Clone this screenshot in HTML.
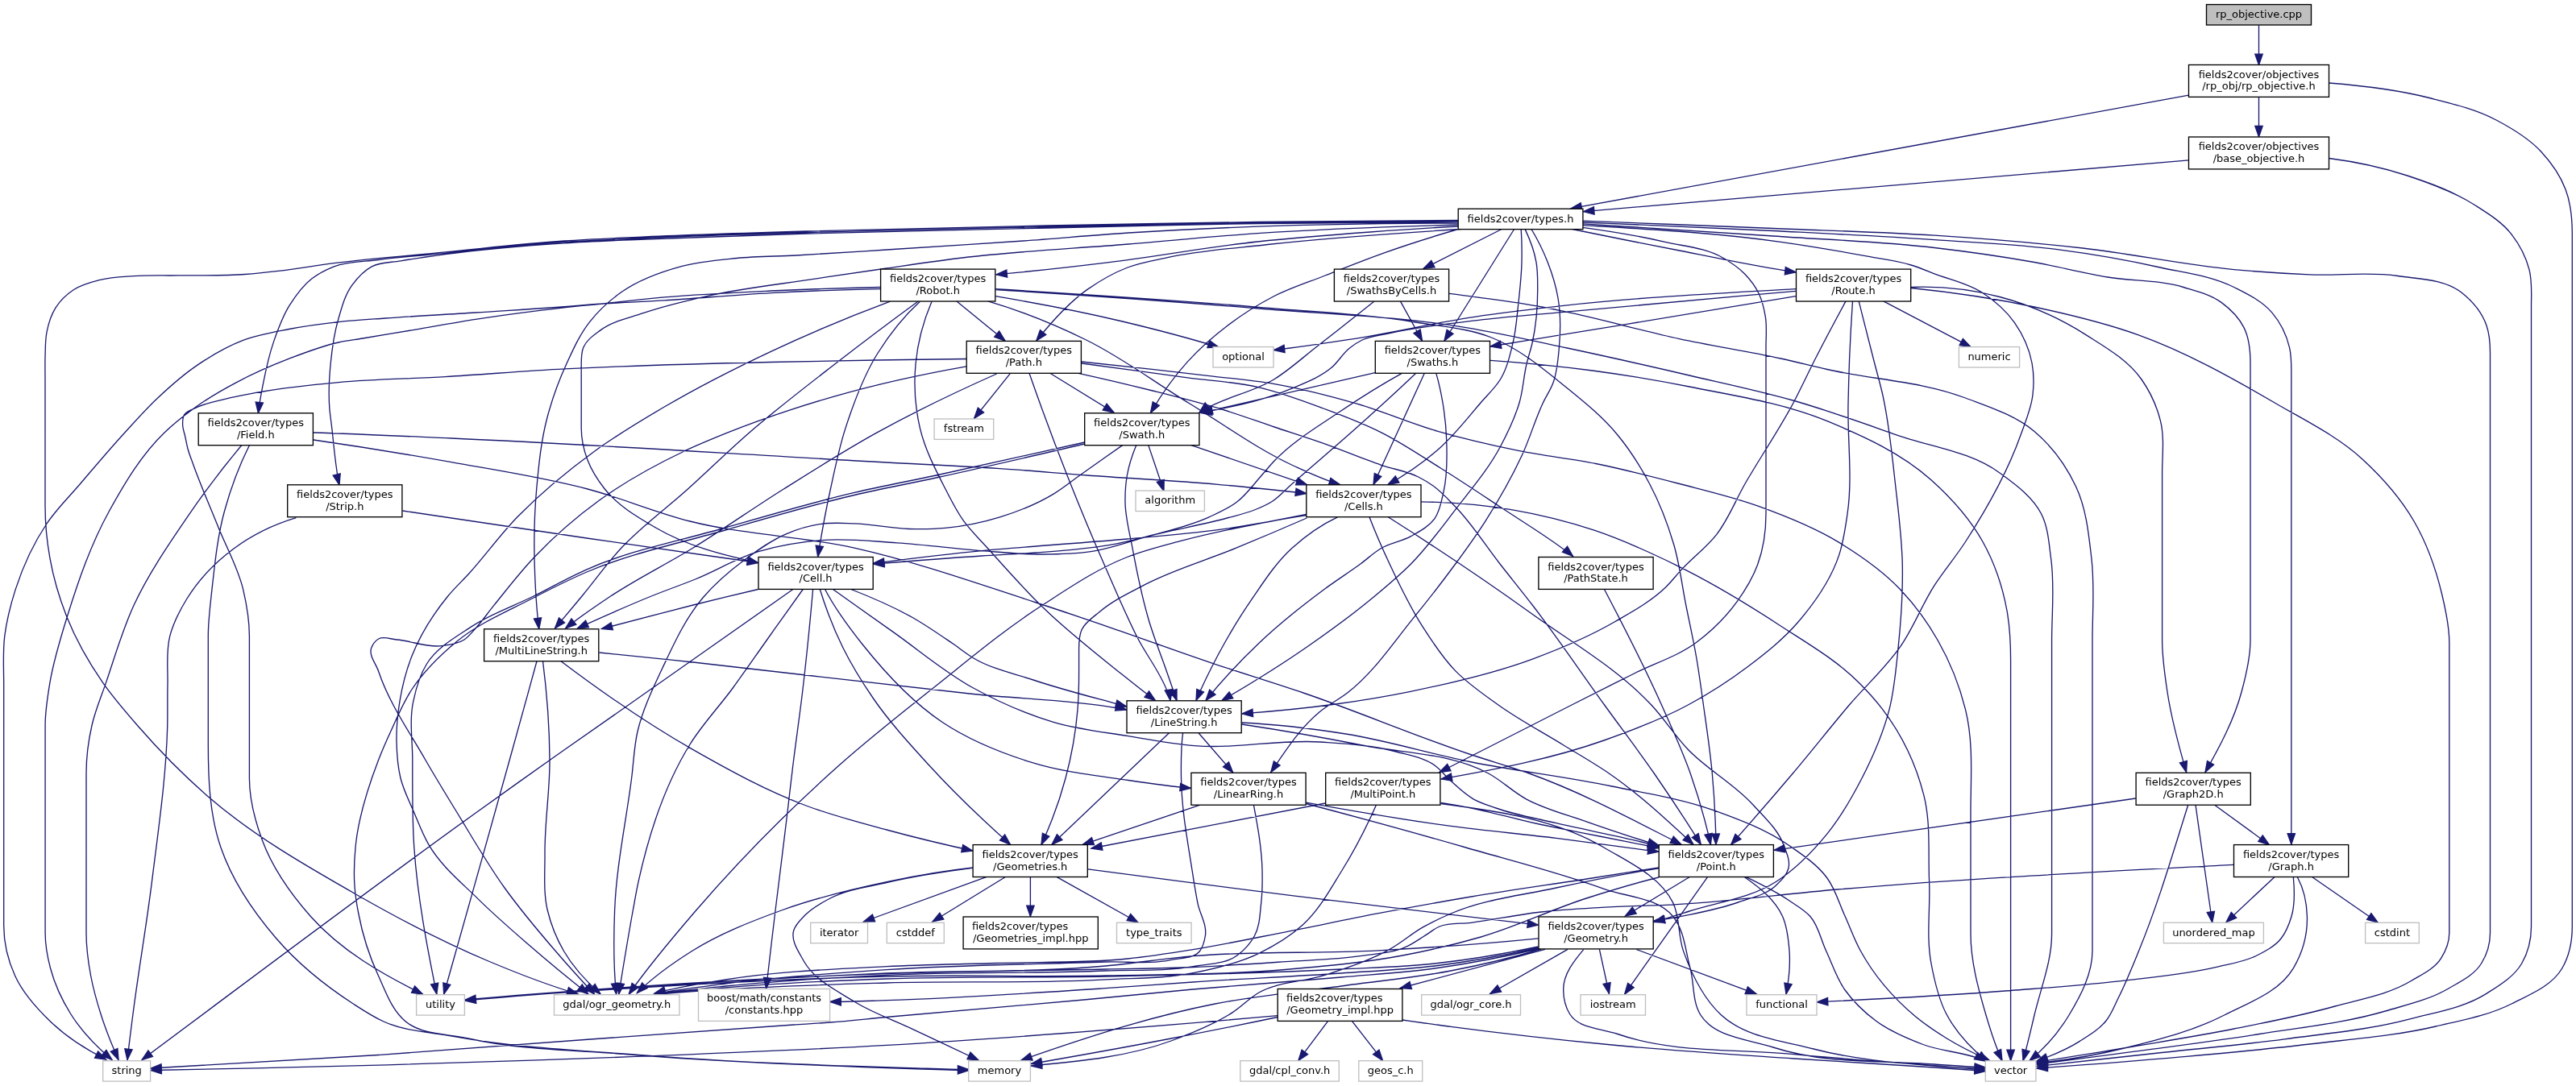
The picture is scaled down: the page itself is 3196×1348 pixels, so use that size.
<!DOCTYPE html>
<html><head><meta charset="utf-8"><title>rp_objective.cpp include graph</title>
<style>html,body{margin:0;padding:0;background:#fff}svg{display:block}text{font-family:"DejaVu Sans","Liberation Sans",sans-serif;font-size:13px;fill:#000;text-anchor:middle}.e{fill:none;stroke:#191970;stroke-width:1.33}.a{fill:#191970;stroke:#191970;stroke-width:1.33}.n{fill:#fff;stroke:#000;stroke-width:1.33}.g{fill:#fff;stroke:#bfbfbf;stroke-width:1.33}.r{fill:#bfbfbf;stroke:#000;stroke-width:1.33}</style></head><body>
<svg xmlns="http://www.w3.org/2000/svg" width="3196" height="1348" viewBox="0 0 3196 1348">
<rect width="3196" height="1348" fill="#fff"/>
<path class="e" d="M2802.5,31.5L2802.5,80.5M2802.5,120.6L2802.5,169.7M2715.5,118.2L1949,258.8M2715.5,198.9L1964.5,262.6M2889.5,103C2931.3,106.3 2973.3,111.1 3014,121.5C3042.2,128.7 3071.2,135.4 3097,149C3117,159.5 3137.1,171.4 3152.5,188C3165.2,201.7 3176.4,217.5 3183,235C3189.6,252.3 3191.3,271.5 3191.3,290C3191.3,318.3 3191.3,346.7 3191.3,375C3191.3,618.3 3191.3,861.7 3191.3,1105C3191.3,1120 3191.3,1135 3191.3,1150C3191.3,1167.8 3187.7,1186.6 3178.7,1202C3165.8,1224 3138.8,1234.4 3116,1246C3086.9,1260.8 3053.8,1266.5 3022,1274C2970.8,1286.1 2917.9,1289.7 2865.6,1296C2813.5,1302.3 2761.2,1307 2709,1311.7C2648.4,1317.2 2587.7,1321.8 2527,1326M2889.5,196.5C2922.4,200.7 2955.2,207.6 2986.7,218C3015.3,227.4 3044.2,237.8 3069.6,254C3086.2,264.6 3103.9,275.2 3116,290.8C3126,303.7 3133.9,318.8 3138,334.6C3141.8,349.3 3140.5,364.8 3140.5,380C3140.5,395 3140.5,410 3140.5,425C3140.5,651.7 3140.5,878.3 3140.5,1105C3140.5,1120 3140.5,1135 3140.5,1150C3140.5,1165.8 3136.6,1182.3 3128.6,1196C3118.9,1212.6 3101,1223.1 3084.8,1233.4C3056.9,1251.1 3022.8,1256.2 2990.9,1264.7C2939.8,1278.3 2886.7,1282.7 2834.3,1289.8C2782.3,1296.8 2730,1301.3 2677.8,1307C2627.5,1312.5 2577.3,1318 2527,1323.5M1809,273.5C1726,273.8 1643,274.5 1560,275.5C1473.3,276.6 1386.7,278.3 1300,280C1200,282 1100,284 1000,287C933.3,289 866.6,291 800,294C766.7,295.5 733.3,296.7 700,299C650.7,302.3 601.7,308.1 552.5,312.9C506.5,317.4 460.3,320.9 414.4,326.7C391.3,329.6 368.4,333.8 345.3,336.4C331.5,338 317.7,339.5 303.9,340.5C276.3,342.5 248.6,341.5 221,341.9C202.6,342.2 184.1,341.4 165.7,342.7C151.8,343.7 137.8,344 124.3,347.4C112.9,350.3 101,353.3 91.2,359.8C82.5,365.6 74.7,373.1 69.1,381.9C63.3,391 60.1,401.7 58,412.3C56.2,421.4 56.4,430.8 56.1,440C55.7,450 56,460 56,470C56,480 56,490 56,500C56,532.3 56,564.7 56,597C56,607 56,617 56,627C56,649 58,671.1 61.9,692.7C66.4,717.8 73.6,742.5 83.1,766.2C94.6,794.9 110.1,822 127.6,847.4C140.4,865.9 155.3,883 170.1,900C197.1,931.1 226,960.6 257,987.7C313.6,1037.1 379.8,1074.8 445,1112C497.2,1141.8 550.6,1169.8 606,1193C642.3,1208.3 679.2,1222.8 717,1233.8M1809,274.5C1726,274.7 1643,275.4 1560,276.5C1473.3,277.7 1386.7,279.7 1300,281.5C1200,283.6 1100,285.5 1000,288.5C933.3,290.5 866.6,292.5 800,295.5C766.7,297 733.3,298.2 700,300.4C650.7,303.7 601.7,309.5 552.5,314.3C524.9,317 497.1,318.9 469.6,322.5C451.1,324.9 431.7,324 414.4,330.8C404.6,334.7 395,339.5 386.7,346C375.3,354.8 366.8,367 359.1,379.2C350.6,392.8 345.1,408.2 339.8,423.4C333.6,441.3 329.6,460 326,478.6C323.8,489.9 321.7,501.3 320.4,512.8M1809,275.5C1726,275.6 1643,276.3 1560,277.5C1473.3,278.8 1386.7,281.1 1300,283C1200,285.2 1100,287 1000,290C933.3,292 866.6,294.1 800,297C766.7,298.5 733.3,299.6 700,301.8C650.7,305.1 601.4,309 552.5,315.6C534,318.1 515.6,320.7 497.2,323.9C485.2,326 472.1,325.1 461.3,330.8C451.2,336.1 443.2,345.1 436.5,354.3C427.8,366.4 424.1,381.5 419.9,395.7C414.6,413.6 412,432.4 410.2,451C408.4,469.3 407.4,487.8 408.8,506.2C409.4,514.2 410.7,522.1 411.6,530C414.1,551.3 415.6,572.9 419.5,594C420,596.6 420.3,599.2 421,601.8M1809,277C1726,277.4 1643,278.2 1560,281.2C1506.6,283.1 1453.3,285.6 1400,289C1356.5,291.8 1313.1,295.9 1269.6,299C1213.1,303 1156.5,306.4 1100,310C1062.6,312.4 1025.2,315 987.8,317C963.2,318.3 938.5,318.1 914,320.5C891,322.8 867.7,324.5 845.4,330.6C819.5,337.6 793.4,346.9 771.4,362.3C756.6,372.7 743,385.1 731.8,399.3C719.3,415 711.1,433.8 702.7,452C692.9,473.2 685,495.4 679,518C671.3,547 668.4,577.1 665.7,607C662.5,642.9 662.2,679 663.7,715C664.6,736.9 665.8,758.9 668.8,780.6M1809,279C1726,281.2 1642.9,284 1560,289.6C1506.6,293.2 1453.3,298.6 1400,303C1331.3,308.7 1262.4,311.7 1194,320C1162.6,323.8 1131.3,328.5 1100,333C1069.7,337.3 1039.5,341.8 1009.3,346.4C965.1,353.1 920.6,357.8 877,367.6C850.4,373.6 823.7,379.8 797.9,388.7C779.9,394.9 760.2,398.4 745,409.9C737.1,415.9 727.8,421.8 723.9,431C721.2,437.5 721.2,444.9 721.2,452C721.2,478.5 721.2,504.9 721.2,531.4C721.2,544.9 724.2,558.4 729,571C733.9,584 741.7,596 750.3,607C766.7,627.8 790.7,641.6 813.5,655C852.1,677.7 896.9,688.9 940.6,698.5M1809,281C1772.6,282.9 1736.3,285.3 1700,288C1653.3,291.4 1606.6,295 1560,300C1497.8,306.7 1436.1,318.3 1374,325.8C1328.1,331.4 1282.1,336.6 1236,340.8M1812,284.5C1732.2,289.5 1652.4,294.6 1573,303.5C1531.4,308.2 1489.5,310.8 1448.6,319.6C1431.9,323.2 1414.9,325.9 1399,332C1381.3,338.8 1364.5,348.5 1349,359.4C1324.6,376.6 1304.5,399.7 1285.8,423M1809,284.5C1778.2,293.5 1747.6,303.1 1717.4,313.8C1692.7,322.6 1668.4,332.4 1644,342C1622.6,350.5 1600.5,357.4 1580,368C1560.1,378.3 1541,390.4 1523.2,404C1505.4,417.5 1488.5,432.4 1473.5,448.9C1455.9,468.2 1440.8,489.9 1427.5,512.5M1863,284.5L1766,333.5M1878.6,284.5L1792,423M1887.2,284.9C1888.2,298.4 1888.3,312 1888,325.6C1887.6,342.8 1885.7,359.9 1883.8,377C1882,393.4 1880.9,410 1877,426C1873.4,441.1 1869.8,456.6 1862,470C1855.4,481.2 1845.5,490.1 1837,500C1820.9,518.8 1805.7,538.7 1787.3,555.2C1767.4,573 1745.3,588.4 1722,601.5M1892.3,284.9C1898.4,297.8 1903.6,311.5 1906,325.6C1908,336.9 1907.7,348.5 1907.7,360C1907.7,382.1 1905.8,404.4 1901,426C1899.1,434.3 1896.3,442.3 1894.3,450.5C1890.3,466.8 1889.8,483.9 1885,500C1879.3,519.2 1870.5,537.5 1861,555.2C1846,583.2 1825,607.4 1805.7,632.6C1788,655.6 1770.9,679.3 1750.5,700C1735.9,714.8 1719.9,728 1704,741.3C1678.1,762.9 1650.7,782.7 1623,802C1588.4,826.1 1552.4,848.3 1516,869.5M1900,284.5C1907.8,297.4 1914.5,311 1920,325C1925.7,339.5 1930.4,354.6 1933,370C1936.4,389.7 1936.2,410.1 1934.5,430C1933.2,445.2 1932.2,460.7 1927,475C1923.8,483.8 1918.4,491.6 1914.4,500C1904.5,520.9 1898.3,543.5 1888.6,564.5C1875.3,593.1 1859.6,620.7 1842.6,647.3C1831,665.4 1818.4,682.7 1805.7,700C1789.3,722.3 1772.3,744.2 1754.8,765.6C1728.3,798.1 1704.8,834.3 1671.7,860C1661,868.3 1648.5,874.4 1638,883C1612.9,903.5 1595,931.7 1576.8,958.5M1963.7,282.3C1997.9,287 2032.1,292.5 2065.7,300.3C2089.9,305.9 2116,307.6 2137.5,320C2147.2,325.5 2156.6,331.8 2164.4,339.8C2171.6,347.2 2178,355.7 2182.4,365C2186.6,373.9 2188.8,383.8 2190.4,393.6C2192.3,405.6 2191,417.9 2191,430C2191,443.3 2191,456.7 2191,470C2191,512.7 2191,555.3 2191,598C2191,611.3 2191,624.7 2191,638C2191,659.4 2187.9,681.2 2180.5,701.3C2174.4,717.6 2165.2,732.8 2155,746.9C2141,766.2 2123.6,783.3 2104.5,797.5C2081.8,814.4 2053.8,822.8 2028.5,835.5C2002.3,848.6 1976.1,861.8 1950,875C1895.2,902.7 1840.6,930.6 1786,958.5M1950.8,284.5C1995,293.6 2039.3,302.4 2083.6,311C2127.3,319.5 2170.7,329 2214.7,335.8C2219.1,336.5 2223.5,337.3 2228,337.8M1963.7,279.6C2045.7,284.5 2127.9,288.8 2209.3,300.3C2245.3,305.4 2281.2,311.5 2317,318.2C2335,321.6 2353.5,323.6 2371,329C2380.9,332 2390.4,336.1 2400,339.8C2419.6,347.2 2441,351.4 2458.6,362.8C2474.1,372.8 2488.6,385.3 2499.3,400.4C2509.8,415.3 2517.6,432.6 2521,450.5C2523.4,463.4 2523.5,476.9 2522,490C2520.1,507.3 2512.8,523.6 2507,540C2490.4,586.9 2465.5,630.8 2438.5,672.5C2426.5,691.1 2412,708 2400,726.6C2384.3,751 2374.3,778.8 2357.7,802.6C2339.4,828.9 2315.2,850.6 2294.4,875C2270.6,903 2248,932 2224.3,960C2199.1,989.8 2173.6,1019.2 2147.7,1048.3M1963.7,277.8C2042.5,282.6 2121.3,287.6 2200,293C2266.7,297.6 2333.6,299.7 2400,307.5C2440.5,312.2 2480.9,317.9 2521,325C2552.5,330.6 2583.5,338.7 2615,344C2646.2,349.2 2678.8,347.3 2709,356.5C2725.2,361.4 2742.4,365.4 2756,375.4C2767.3,383.7 2777.7,394.1 2784,406.6C2790.7,419.9 2792,435.6 2792,450.5C2792,463.8 2792,477.2 2792,490.5C2792,578.7 2792,666.8 2792,755C2792,768.3 2792,781.7 2792,795C2792,816.6 2786.7,838.1 2781,859C2771.5,894.1 2754,926.9 2736,958.5M1963.7,276C2042.5,279.1 2121.3,282.5 2200,286.5C2266.7,289.9 2333.4,293 2400,297.6C2450.9,301.1 2501.9,303 2552.5,309.6C2594.5,315.1 2636.4,322.1 2677.8,331.5C2709.4,338.6 2742.8,341.9 2771.7,356.5C2788.5,365 2806.5,373.5 2818.7,387.9C2829.3,400.3 2836.9,415.8 2840.6,431.7C2843.2,442.9 2842.8,454.5 2842.8,466C2842.8,479.3 2842.8,492.7 2842.8,506C2842.8,673.3 2842.8,840.7 2842.8,1008C2842.8,1021.3 2842.8,1034.7 2842.8,1048M1963.7,274.2C2042.5,277.2 2121.2,280.2 2200,283.5C2266.7,286.3 2333.4,287.8 2400,292.2C2461.4,296.2 2522.8,301.1 2584,308C2646.8,315.1 2708.8,328.8 2771.7,334.6C2802.9,337.5 2834.3,339.6 2865.6,340.9C2902,342.5 2938.9,337 2975,342.5C3001.7,346.6 3032.2,346.2 3053.5,362.8C3067,373.3 3079,387.4 3084.8,403.5C3088.7,414.4 3089.5,426.4 3089.5,438C3089.5,451.3 3089.5,464.7 3089.5,478C3089.5,691.3 3089.5,904.7 3089.5,1118C3089.5,1131.3 3089.5,1144.7 3089.5,1158C3089.5,1171.2 3085.5,1184.8 3078.5,1196C3069.5,1210.5 3052.5,1218.3 3037.8,1227C3013.9,1241.1 2986.1,1247.1 2959.5,1255C2908.7,1270 2855.4,1275.1 2803,1283.5C2751,1291.9 2698.7,1298.4 2646.5,1305.4C2606.7,1310.8 2566.9,1316 2527,1321M1092,356.5C1046.8,357.4 1001.6,358.9 956.4,361C912.3,363.1 868.3,365.1 824.3,368.9C796.2,371.3 768.1,375 740,377.5C690.1,382 640,384.7 590,388C552.7,390.5 515.3,392.3 478,395C458.7,396.4 439.3,397.5 420,399.6C399.5,401.9 379,404.5 358.7,408.5C339.5,412.3 319.9,415.5 301.6,422.4C281.4,430.1 262.5,441.2 244.6,453.4C227.1,465.3 211.1,479.5 195.7,494C181.3,507.5 168.2,522.4 154.8,537C136,557.5 118.1,578.8 100,600C85.9,616.6 70.1,631.9 58,650C41.2,674.9 28.6,702.8 19.3,731.4C13.2,750.3 8.3,769.7 5.8,789.4C3.3,809.4 4.7,829.8 4.7,850C4.7,863.3 4.7,876.7 4.7,890C4.7,963 4.7,1036 4.7,1109C4.7,1122.3 4.7,1135.7 4.7,1149C4.7,1170.4 9.9,1192.1 18.8,1211.5C28.7,1233.2 45.4,1251.5 62.6,1268C82.6,1287.3 106.6,1302.6 131.5,1315M1092,358.6C1046.8,359.5 1001.6,361.2 956.4,363.6C912.3,366 868.4,370.1 824.3,372.9C796.2,374.7 768,375.5 740,377.9C713.3,380.2 686.6,383.3 660,386.6C636.6,389.5 613.3,392.8 590,396.4C566.6,400 543.3,404.4 520,408.3C496.7,412.2 473.3,416.1 450,420C440,421.7 429.9,422.8 420,425C399,429.6 378.8,437.5 358.7,445.2C336.5,453.8 314.5,463.4 293.5,474.6C276.7,483.5 260.1,493 244.6,504C230.4,514.1 216.6,524.9 204,537C175.3,564.6 154.6,599.9 135.3,634.7C112.5,676 97.1,721.2 83.1,766.2C74.8,792.9 66.5,819.8 61.9,847.4C59,864.8 56.1,882.4 56.1,900C56.1,913.3 56.1,926.7 56.1,940C56.1,999.3 56.1,1058.7 56.1,1118C56.1,1131.3 56.1,1144.7 56.1,1158C56.1,1172.8 58.8,1187.7 62.6,1202C67.9,1221.9 76.8,1241 87.7,1258.5C101.2,1280.2 119.5,1299 139,1315.5M1104.4,374.2C1054.3,392.9 1004.8,413.5 956.4,436.3C911.5,457.4 867.1,479.9 824.3,505C794.8,522.3 765.4,539.9 737.8,560C704.1,584.5 671.8,611.3 642.6,641C620.8,663.2 602.8,688.9 581.8,712C573.2,721.4 563.8,730.1 555.7,740C537.3,762.5 521.4,787.7 510.8,814.8C503.8,832.8 499,851.7 495.9,870.8C493.2,887 491.7,903.6 492,920C492.3,935.4 493.3,951 497,966C500.6,980.6 507.6,994.1 513.5,1008C519.3,1021.7 524.5,1035.8 532,1048.7C547.7,1075.6 572.9,1095.7 595,1117.6C615,1137.3 636.3,1155.6 657.5,1174C681.1,1194.5 705.3,1214.4 729.8,1233.8M1138.8,374.2C1104.1,399.6 1069.7,425.6 1035.7,452C1000,479.7 964.1,507.2 930,536.7C903.8,559.4 879.1,583.8 853.4,607C826.2,631.6 796,653.2 771,680C753.4,698.9 738.5,720.1 722,740C710.9,753.4 699.7,766.8 688.4,780M1141.4,374.2C1120.8,393 1103.3,415.4 1088.6,439C1070.9,467.4 1059.3,499.5 1049,531.4C1041,556.1 1035.9,581.6 1030.4,607C1024.3,634.8 1019.2,662.9 1014.7,691M1156,374.2C1145.5,398.8 1138.4,425.3 1136,452C1133.6,478.4 1135.4,505.6 1141.4,531.4C1147.6,558 1160.5,582.7 1173,607C1179.9,620.4 1186.6,634.1 1195.4,646.4C1204.1,658.5 1215,668.9 1225,680C1247.7,705.3 1270.1,731 1294.6,754.6C1324.4,783.4 1357.1,809.1 1389.4,835C1404,846.7 1418.5,858.4 1433.5,869.5M1187,373.9L1247,423M1225.7,373.9C1267.7,386.1 1308.5,402.7 1347.7,422C1392.8,444.2 1433.1,474.9 1476,501C1518.7,526.9 1559.2,557.1 1604.6,578C1623.5,586.7 1642.4,595.8 1662.4,601.5M1235.2,367.7C1287.2,376.5 1339.1,386.3 1390.5,398.5C1431.3,408.2 1471.9,418.7 1512,431M1235.2,358.7C1344.1,365.2 1453.1,372.1 1561.8,381.4C1626.8,387 1692.2,389.3 1756.5,400C1788,405.3 1820.8,407.2 1850.5,419C1885.5,432.9 1915.1,458.1 1944.4,481.8C1966.5,499.7 1988.9,518 2007,540C2022.2,558.4 2035.1,578.9 2046.3,600C2059.1,624.1 2069,649.8 2076.7,676C2084,700.8 2086.8,726.7 2091.9,752C2096.1,773 2100.8,793.9 2104.5,815C2108,834.9 2110.6,855 2113.4,875C2117.4,903.3 2121.7,931.6 2124.3,960C2127,989.4 2128.5,1018.8 2129,1048.3M1235.2,359.5C1344.1,366.4 1453,374 1561.8,383C1647.6,390.1 1734.1,392.5 1819,406.6C1861.1,413.6 1902.7,423.1 1944.4,432C1995.1,442.8 2045.6,454.2 2096,466C2138.9,476 2182.1,484.9 2224.5,497C2267.9,509.4 2310.4,524.9 2353,539.8C2395.9,554.9 2444.3,560.1 2481,587C2500.5,601.3 2521.8,616.4 2532.7,638C2541.3,655.1 2542.1,675.1 2544.7,694C2549.3,727.3 2545.6,761.3 2545.6,795C2545.6,808.3 2545.6,821.7 2545.6,835C2545.6,929.7 2545.6,1024.3 2545.6,1119C2545.6,1132.3 2545.6,1145.7 2545.6,1159C2545.6,1193.4 2531.9,1226.5 2524,1260C2519.6,1278.9 2515.1,1297.8 2510,1316.5M1737.4,373.9L1764.5,423M1704.7,374.3C1681.2,393 1657.7,411.6 1634,430C1616.5,443.6 1600.1,458.8 1581.3,470.5C1553.7,487.7 1519.7,492.5 1492,509.5C1490.7,510.3 1489.2,511 1488,512M1797.9,364.4C1836.3,369.5 1874.9,373.8 1913,381C1922,382.7 1931,384.5 1940,386.4C1988.2,396.3 2035.5,410.3 2083.6,420.6C2125.3,429.6 2167.6,435.8 2209.3,445C2228.6,449.3 2247.7,454.1 2267,458.5C2323.9,471.4 2384,473.2 2438.5,494C2468.1,505.3 2499.8,515.1 2524,535.5C2545.8,553.9 2563.5,578.1 2575.6,604C2588.6,631.8 2591.5,663.5 2595,694C2598.9,727.4 2596,761.3 2596,795C2596,808.3 2596,821.7 2596,835C2596,936.7 2596,1038.3 2596,1140C2596,1153.3 2596,1166.7 2596,1180C2596,1208.4 2581.7,1235.7 2567,1260C2554.1,1281.3 2537.5,1300.9 2518,1316.5M2228,358.6C2131.9,364.2 2035.7,368.7 1940,379.3C1906.6,383 1873.2,386.9 1840,391.7C1783.8,399.8 1728.5,413 1672.4,421.6C1641.8,426.3 1611.2,430.9 1580.4,434.5M2228,361.3C2132,369.9 2036,378.4 1940,387.3C1906.7,390.4 1873.2,392.8 1840,396.7C1800.5,401.4 1760.8,405.2 1722,414C1711.3,416.4 1699.9,417.2 1690,422C1684.5,424.7 1679.3,428.2 1674.5,432C1665.8,438.8 1660.5,449.2 1652,456.3C1637.5,468.5 1618.9,475.2 1601.5,482.7C1569.3,496.6 1534.4,503.4 1500,510.5C1496.7,511.2 1493.4,512 1490,512.5M2228,367.6C2157.7,379.3 2087.4,391 2017,402.6C1991.3,406.8 1965.7,411 1940,415.2C1909.7,420.1 1879.3,425.1 1849,430M2336.8,373.9L2445,430.6M2371,356.5C2407.9,355 2445.3,359.1 2481,368.5C2518.7,378.4 2555.1,394.8 2588,415.6C2612.9,431.4 2640.1,446.8 2657,471C2667.8,486.5 2676,504.3 2680.5,522.7C2685.6,543.5 2682.6,565.6 2682.6,587C2682.6,600.3 2682.6,613.7 2682.6,627C2682.6,669.7 2682.6,712.3 2682.6,755C2682.6,768.3 2682.6,781.7 2682.6,795C2682.6,816.4 2685.8,837.8 2689,859C2694.1,892.7 2703.1,925.8 2712.6,958.5M2371,357.5C2422.3,362.7 2473.6,370.2 2524,381C2567.4,390.3 2610.8,400.6 2652.6,415.6C2712.7,437.2 2768.9,468.8 2824,501C2860.6,522.4 2899.8,541.3 2931,570C2955.6,592.6 2978.2,618.1 2995,647C3011.1,674.8 3022,705.8 3029.5,737C3034.3,756.8 3038.8,777 3038.8,797.4C3038.8,810.7 3038.8,824.1 3038.8,837.4C3038.8,930.9 3038.8,1024.5 3038.8,1118C3038.8,1131.3 3038.8,1144.7 3038.8,1158C3038.8,1169.1 3034.4,1180.3 3028.5,1189.6C3020.1,1202.8 3004.4,1209.7 2991,1217.8C2962.7,1234.8 2928.8,1240 2897,1249C2855.8,1260.7 2813.7,1268.6 2771.7,1277C2730.1,1285.3 2688.3,1291.9 2646.5,1299C2606.7,1305.7 2566.9,1312.2 2527,1318.5M2290,373.9C2277.2,397.5 2264.6,421.1 2252.4,445C2242.9,463.6 2234.3,482.6 2224.5,501C2206.4,534.9 2184.5,566.7 2165.3,600C2153.2,621 2144.6,644.2 2129.8,663.3C2117.4,679.3 2100.6,691.5 2086.8,706.4C2079.9,713.8 2073.8,722 2066.5,729C2048.1,746.8 2025.1,759.2 2003,772C1971,790.6 1936.6,804.9 1902,817.8C1852.9,836.1 1801.4,847.8 1750,858.3C1719.2,864.6 1688.1,869.7 1657,874C1618.5,879.3 1579.8,883 1541,885.8M2298.5,373.9C2296.9,397.6 2295.6,421.3 2294.6,445C2293.9,463.7 2293.4,482.3 2293,501C2292,546.7 2298.7,592.8 2292,638C2289.5,655 2287.2,672.3 2281.8,688.6C2271.6,719.5 2252.2,747.3 2231,772C2212.7,793.4 2190.2,811 2167.8,828C2144.6,845.5 2120,861.2 2094.4,875C2061.2,893 2025.6,906.4 1990,919C1924.8,942.1 1856.1,954.9 1788,967M2306.2,373.9C2312.2,397.6 2318.1,421.3 2324.2,445C2328,460 2332.4,474.9 2335.8,490C2343.9,526.1 2347.2,563.2 2351.4,600C2355.2,633.7 2359.7,667.4 2360.3,701.3C2360.9,735.1 2358.7,769 2355.2,802.6C2352.5,828.7 2350.5,855.2 2344,880.6C2336.4,910.3 2324,938.7 2310,966C2297.6,990.1 2284.1,1013.8 2267,1034.8C2248.5,1057.5 2227.6,1079 2203,1094.7C2171.2,1114.9 2131.9,1119.6 2096,1131C2081.4,1135.6 2066.8,1140.3 2052,1144.5M1199,445.5C1118.1,446.4 1037.3,447.6 956.4,449.5C894.7,450.9 833,452.4 771.4,454.8C747.6,455.7 723.8,456.7 700,457.9C650.8,460.4 601.7,464.7 552.5,467.6C508.3,470.2 464,470.5 420,474.6C388.6,477.5 357.1,480.6 326,486C309.6,488.8 293.1,491.6 277,495.8C266.1,498.6 254.7,500.6 244.6,505.5C238.9,508.3 231.2,509.7 228.3,515.3C226.5,518.7 226.6,522.9 226.6,526.7C226.6,532.3 228.9,537.6 230,543C231,547.7 231.8,552.4 233,557C234.8,563.7 237.5,570.2 239.8,576.7C249.1,602.8 260.4,628.2 270.7,654C281,679.8 295.1,704.4 301.6,731.4C306.1,750.4 309.4,769.9 309.4,789.4C309.4,802.7 309.4,816.1 309.4,829.4C309.4,861.6 309.4,893.8 309.4,926C309.4,939.3 309.4,952.7 309.4,966C309.4,992.2 316.3,1018.4 325.4,1043C338.3,1078 360.7,1109.5 385.4,1137.5C422.8,1179.8 473.9,1209.1 524.5,1234M1199,454.8C1144,464.5 1089.3,476.4 1035.7,491.8C991,504.7 946.8,519.4 903.6,536.7C885.2,544.1 866.9,551.5 849,560C812.4,577.4 776.7,597 743.9,620.8C714.8,641.9 687.6,665.7 662.8,691.7C644.6,710.8 628.6,731.9 612,752.4C604.6,761.5 598,771.4 590,780C585.5,784.9 581.5,790.4 576,794C567.9,799.3 557.6,800.4 548,801.7C529.3,804.2 510.8,795.3 492,794C484.6,793.5 476.1,789.2 469.7,793C465.8,795.3 462.8,799.3 461,803.5C456.9,813.1 466.4,823.6 469.7,833.5C482.8,872.7 507.2,907.2 527.7,943C540.3,964.9 553.5,986.5 566.7,1008C586,1039.6 604.4,1071.9 626,1102C645.5,1129.1 667,1154.7 688.8,1180C704.6,1198.3 720.6,1216.4 737.4,1233.8M1236.6,464C1186.4,486.3 1136.7,510.1 1088.6,536.7C1048.9,558.6 1010.7,582.9 972.3,607C934.5,630.7 898,656.6 860,680C826.3,700.7 790.5,718.1 757.6,740C738.5,752.7 719.4,765.6 701.5,780M1253.5,463.3L1208.6,519.5M1277,463.3C1291.8,505.8 1307.5,548.1 1324,590C1340.4,631.7 1357.7,673 1375.8,714C1387,739.5 1397.9,765.1 1410.4,790C1422.4,813.8 1440.1,834.9 1448.9,860C1450,863.1 1451.5,866.2 1452,869.5M1302.8,463.3L1382,512M1342,451C1385.8,456.9 1429.7,462.9 1473.5,468.8C1502.7,472.7 1532.3,474 1561,480.6C1588.7,487 1615.4,497.1 1642,507C1666.3,516 1690.6,525.2 1713.7,536.8C1739.3,549.6 1763,565.8 1787.3,581C1812.2,596.5 1836.5,612.8 1861,629C1889.4,647.8 1918.7,665.3 1945.7,686C1947.6,687.5 1949.7,688.9 1951.5,690.5M1338,463.3C1368.8,470.1 1399.5,477.3 1430,485C1459.8,492.5 1489.6,499.9 1519,509C1539.8,515.5 1560.3,523 1581,530C1600.7,536.6 1620.4,542.8 1640,549.7C1664.7,558.4 1688.9,568.9 1713.7,577.3C1728.9,582.5 1745.4,584.7 1759.7,592C1766,595.2 1772.2,598.9 1778,603C1788.3,610.3 1796.9,619.9 1805.7,629C1826.6,650.5 1842.5,676.4 1861,700C1874.6,717.4 1888.6,734.5 1902,752C1932.8,792.1 1961,834.1 1990.6,875C2011.1,903.4 2032.4,931.2 2052.3,960C2072.3,989 2091.7,1018.4 2110.3,1048.3M1342,449C1394.2,454.5 1446.3,460.1 1498.4,466.3C1526,469.6 1553.9,471.8 1581.3,476.6C1615.5,482.6 1649.2,491.3 1682.6,500.9C1716.9,510.8 1749.6,525.4 1783.9,535.3C1817.2,544.9 1851.1,552.7 1885.1,559.6C1916.5,566 1948.6,569.1 1980,575.5C2014.2,582.4 2048,591.2 2081.7,600C2114.8,608.7 2148.3,616.3 2180.5,627.9C2215.3,640.4 2250.2,654.1 2281.8,673.4C2309,690 2335.7,708.6 2357.7,731.7C2375.8,750.7 2391.3,772.2 2404.3,795C2419.5,821.7 2431.1,850.8 2438.5,880.6C2448.8,922.2 2445,966.1 2445,1009C2445,1022.3 2445,1035.7 2445,1049C2445,1072.3 2445,1095.7 2445,1119C2445,1132.3 2445,1145.7 2445,1159C2445,1193.3 2454.4,1227.1 2464,1260C2469.6,1279.2 2475.6,1298.4 2484,1316.5M1706,462.6L1491,512.3M1739.3,463.4C1712.9,478 1687.3,494.1 1662.3,511C1634.4,530 1604.6,547.3 1581.3,571.8C1575.7,577.7 1570.7,584 1565.3,590C1555,601.5 1546.1,614.6 1533.7,623.8C1523.5,631.4 1511.6,636.5 1500,641.9C1475,653.5 1447.5,659.1 1421,666.7C1398.6,673.2 1376.4,681.2 1353.3,684.7C1331,688.1 1308.2,688.2 1285.6,688C1263,687.8 1240.5,685.3 1218,683.6C1182.9,680.9 1148.1,676 1113,673.8C1081.7,671.9 1050.2,668.1 1019,670.6C992.6,672.7 966.2,677.1 940.9,684.7C913.6,692.9 889,708.3 862.6,719C844.5,726.3 826.1,732.7 808,740C777.1,752.5 746.7,766.2 716.4,780M1756.5,463.4C1732.2,486.4 1707.5,509 1682.6,531.3C1655.9,555.2 1628.4,578.2 1601.5,602C1594,608.7 1587.4,616.5 1579,622C1572,626.6 1564.1,629.9 1556.3,633C1545.4,637.4 1533.8,639.9 1522.5,643C1496.5,650.2 1469.8,654.9 1443.5,661C1420.9,666.2 1398.6,672.7 1375.8,676.7C1346,681.9 1315.7,683.7 1285.6,686C1263.1,687.8 1240.5,688.5 1218,690C1173.2,692.9 1128.4,696.5 1083.7,700.2M1767.3,463.3L1704,601.5M1781.8,463.4C1785.3,475.4 1787.9,487.7 1790,500C1792.6,515.2 1794.2,530.6 1794.7,546C1795.5,567.5 1795.9,589.5 1791,610.5C1788.4,621.8 1786.7,634.1 1780,643.6C1772.9,653.6 1761.2,659.6 1750.5,665.7C1739,672.2 1725.1,673.8 1713.7,680.5C1704.4,685.9 1696.6,693.6 1687.9,700C1673.3,710.7 1657.9,720.4 1643.3,731.2C1615.2,752 1587.7,773.9 1562.3,798C1538.7,820.4 1516.4,844.2 1496,869.5M1849,447.3C1891.3,450.2 1933.6,454.4 1975.7,460C2016,465.4 2056.1,472 2096,480C2153.6,491.5 2212.7,500.3 2267,522.7C2312.6,541.5 2359,562.6 2395.7,595.5C2420.6,617.8 2443.8,643.3 2460,672.5C2474.7,698.9 2484.6,728.3 2490,758C2493.7,778.4 2494.6,799.3 2494.6,820C2494.6,833.3 2494.6,846.7 2494.6,860C2494.6,998.8 2494.6,1137.7 2494.6,1276.5C2494.6,1289.8 2494.6,1303.2 2494.6,1316.5M1345.6,549C1284.3,562.9 1223,576.8 1161.5,590C1127.7,597.3 1093.7,603.5 1060,611.4C1006.2,624 953.1,639.8 900,655C842.4,671.5 782.8,682.6 728,706.8C705.5,716.7 684.1,729 662,740C636.6,752.6 609.3,761.8 585.6,777.4C565.3,790.8 542.4,803.4 529.5,824C520.7,838 516.1,854.6 512.7,870.8C507.7,894.3 511.8,918.9 511.8,943C511.8,979.3 511.3,1015.7 513.8,1052C518,1113.2 529.5,1173.9 541.8,1234M1345.6,551C1284.3,565.3 1223,579.6 1161.5,593C1127.7,600.4 1093.7,606.6 1060,614.5C1006.2,627.1 953.1,642.8 900,658C842.4,674.5 783.1,686.4 728,710C704.8,719.9 682.4,731.4 660,743C628.3,759.5 594.6,773.3 567,796C545.8,813.4 525.9,833.1 510.8,856C500.1,872.2 492.8,890.4 484.7,908C479.4,919.5 474.3,931.2 469.7,943C456.2,978.1 444.4,1014.6 441,1052C439.5,1067.9 438.8,1084 440,1100C440.8,1111.1 442.5,1122.1 444.6,1133C449.7,1160 458,1186.6 469.6,1211.5C478.7,1231.2 486.1,1253.6 502.7,1267.5C523.5,1284.9 554.6,1283.1 581,1289C647,1303.7 715.4,1303.6 782.8,1309C898.3,1318.3 1014.2,1322.1 1130,1325.6C1153.9,1326.3 1177.8,1327.3 1201.7,1327.5M1392.7,552.6C1375,565 1357.3,577.5 1339.7,590C1329.1,597.5 1319.1,605.9 1308,612.6C1287,625.4 1263.9,634.7 1240.5,641.9C1218.5,648.7 1195.7,653.3 1172.8,655.4C1157.8,656.8 1142.7,656.9 1127.7,656.5C1105,655.9 1082.7,650.5 1060,649.8C1046.3,649.4 1032.5,648.4 1019,650.3C1004,652.4 989.3,656.9 975.3,662.8C957.1,670.5 940.9,682.3 925,694C905.8,708.2 887.4,723.8 872,742C850.3,767.5 836.3,798.8 822,829C809.9,854.6 797.4,880.4 791,908C786.6,927 786.1,946.7 783.6,966C776.6,1020.7 764.7,1074.9 762.6,1130C761.3,1164.6 760.9,1199.5 764.6,1234M1409.8,552.6C1404.8,564.6 1400.7,577.2 1398.4,590C1396.4,601.1 1395.8,612.5 1396,623.8C1396.3,642.8 1401.5,661.5 1405,680.2C1410.6,710.6 1416.7,740.9 1425.5,770.5C1432,792.3 1440.5,813.5 1448,835C1452,846.5 1456,858 1460,869.5M1424.8,552.6L1444,609.5M1478,552.6L1621.7,601.8M299.7,552.7C275.6,581.4 253.1,611.5 232,642.4C208.2,677.3 184.1,712.4 166.3,750.7C151.9,781.8 142.6,815 131.5,847.4C125.5,864.9 118.2,882 114.1,900C109.6,919.6 107,939.9 107,960C107,973.3 107,986.7 107,1000C107,1039.3 107,1078.7 107,1118C107,1131.3 107,1144.7 107,1158C107,1175.9 109.4,1193.9 112.7,1211.5C115.7,1227.4 120.1,1243.1 125,1258.5C131.1,1277.9 138.7,1296.9 147,1315.5M309.4,552.7C296.3,578.8 286.1,606.5 278.4,634.7C269.8,666.2 266.6,699 263,731.4C260.9,750.7 258.3,770 258.3,789.4C258.3,802.7 258.3,816.1 258.3,829.4C258.3,847.4 258.3,865.5 258.3,883.5C258.3,896.8 258.3,910.2 258.3,923.5C258.3,966.7 259.9,1011.2 274,1052C288.3,1093.5 313.9,1131.2 342.5,1164.5C369.8,1196.3 403.1,1223.2 438.3,1246C450.5,1253.9 462.7,1262 476,1268C503.2,1280.3 534.2,1281.3 563.6,1286.6C641.5,1300.7 721.1,1303.8 800,1310C909.8,1318.6 1019.9,1323 1130,1326.5C1153.9,1327.3 1177.8,1328.3 1201.7,1328.5M388.9,537C446,538.7 503,541.5 560,544C740.1,552 920,564.2 1100,574C1146.7,576.5 1193.4,578.5 1240,581.6C1276.3,584 1312.5,587.3 1348.8,590C1402.8,594 1457,596.5 1511,601.3C1547.6,604.6 1584.2,608.1 1620.7,612.5M388.9,546C446.1,554.3 503.1,563.5 560,573.7C616.5,583.8 673.5,592.4 729,607C771.9,618.3 813,636.1 856,647C922.8,664 992.8,665 1060,680.2C1136.6,697.5 1210.9,723.7 1285.6,748C1317.2,758.3 1348.6,769 1380,779.8C1420.6,793.7 1460.8,808.6 1501.5,822.3C1539.9,835.3 1578.7,846.9 1617,860C1687.3,884 1755.6,913.5 1826,937C1849.7,944.9 1873.7,951.6 1897.2,960C1962.6,983.5 2024.1,1016.8 2086,1048.3M367.4,642.6C339.8,650.9 313.1,663.8 290,681C267.3,697.9 246.8,718.9 232,743C223.1,757.5 215.1,772.9 210.8,789.4C205.7,809 208.5,829.8 208,850C207.6,867.3 208.1,884.7 207.7,902C206,966.5 196.3,1030.6 188.4,1094.7C181.6,1149.9 171.8,1204.8 164.8,1260C162.4,1278.5 160,1297 158,1315.5M499.4,634C575.6,645.5 651.8,656.9 728,668C798.8,678.3 869.7,688.5 940.6,698.5M1620.7,638.5C1584.4,646.2 1547.8,652.6 1511,657.7C1473.6,662.8 1436,665.6 1398.4,669C1360.8,672.4 1323.2,674.9 1285.6,678C1263.1,679.8 1240.5,681.5 1218,683.6C1173.1,687.8 1128.4,693.5 1083.7,699.2M1620.7,639.6C1599.1,642.8 1577.7,646.8 1556.3,651C1526,656.9 1495.8,663.2 1466,671.2C1443.3,677.3 1420.3,682.9 1398.4,691.5C1360.4,706.4 1326.3,729.9 1292,752C1244.8,782.5 1201.8,819.1 1157.8,854C1118.3,885.3 1078.6,916.5 1041,950C978.1,1006 918.6,1066.2 863.6,1130C834.6,1163.7 805.7,1197.6 780.3,1234M1621.3,643C1592.2,655.7 1563,668.1 1533.7,680.2C1496.3,695.7 1456.8,706.6 1421,725.4C1401.6,735.6 1381.2,744.9 1364.5,759.2C1356.4,766.1 1346.3,772.1 1342,781.8C1339,788.8 1338.6,796.7 1338.6,804.3C1338.6,814.5 1338.6,824.8 1338.6,835C1338.6,850.2 1338.3,865.4 1337,880.6C1334.6,909.4 1329.5,938.1 1322,966C1314.5,994.2 1304.3,1021.8 1292,1048.3M1659.5,641.8C1638.8,651.5 1619.7,665.1 1602.8,680.5C1582.5,699 1567.6,722.7 1552,745.3C1537.3,766.7 1524,789.1 1511.7,812C1501.7,830.8 1492.2,849.9 1484,869.5M1699,641.8C1706.6,661.8 1715.3,681.4 1724.4,700.8C1736.7,727 1749.3,753.3 1764.9,777.7C1777.1,796.8 1789.6,816.1 1805.4,832.4C1821.2,848.8 1840.4,861.7 1858.9,875C1884.7,893.5 1913,908.3 1940,925C1958.8,936.6 1978.1,947.5 1996.3,960C2033.9,985.9 2067.5,1017.3 2101,1048.3M1722.3,641.8C1782.6,680.1 1842,719.8 1900,761.5C1950.6,798 2006.2,829.4 2048.8,875C2065,892.3 2077.7,912.8 2094,930C2118.4,955.7 2151.4,972.6 2175,999C2189,1014.6 2205.9,1029.3 2213,1049C2216.3,1058.1 2221.2,1068 2219,1077.5C2217,1086.1 2209.8,1092.9 2203.5,1099C2191.2,1110.9 2172.7,1114.2 2156.5,1120C2136.9,1127 2116.4,1131.2 2096,1135.4C2081.4,1138.4 2066.8,1141.1 2052,1143M1763.1,622.8C1801.1,623.4 1839.2,626.5 1876.6,632.9C1910.9,638.8 1944.9,647.2 1977.9,658.2C2012.7,669.8 2046.2,685.2 2079.2,701.3C2123,722.7 2165,748 2205.8,774.7C2240.6,797.5 2277.7,818.4 2307,848C2317.2,858.3 2327,869.1 2335.8,880.6C2359.7,912.1 2377.4,949.3 2387,987.7C2395.6,1022.4 2392.1,1059 2393.6,1094.7C2395,1128.4 2389.7,1162.8 2396,1196C2400,1217.4 2404.7,1239.2 2414.8,1258.5C2426.9,1281.7 2445.7,1301.5 2466,1318M940.5,731.5C913.6,737.8 886.8,744.3 860,751C826.6,759.4 793.4,768.4 760,777C755.5,778.2 750.9,779.3 746.4,780.5M983.8,731.5C909.2,784 834.7,836.5 760,888.9C734.3,906.9 708.5,924.9 682.8,943C652.3,964.5 622,986.2 591.7,1008C451.7,1108.5 314.3,1212.6 176,1315.5M996.2,731.5C981.1,752.7 966,773.8 951,795C937,814.7 923.4,834.6 909.2,854C892,877.5 871.7,898.8 856.3,923.5C824.1,975.3 805,1035.2 792,1094.7C789.4,1106.4 787.5,1118.2 785.3,1130C778.9,1164.6 773.4,1199.3 767.7,1234M1008.6,731.5C1005,772.4 1001,813.2 996.2,854C992.5,886 987.7,918 983.8,950C981.4,969.3 979.3,988.7 977,1008C972.2,1048.7 966.9,1089.3 962,1130C958.1,1162.3 954.3,1194.7 950.6,1227M1017.3,731.5C1025,756.4 1034.4,780.9 1046,804.3C1056.7,825.9 1069.5,846.6 1083.2,866.5C1103.7,896.4 1128.4,923.2 1152.8,950C1184.4,984.7 1218.5,1017.1 1253.5,1048.3M1023.6,731.5C1036.2,756.1 1053,778.4 1070.2,800C1099,836.2 1131.1,871.2 1169.6,896.7C1203.2,919 1241.5,934.4 1280,946.4C1318.8,958.5 1359.8,962.5 1400,968.5C1425.8,972.3 1451.6,975.9 1477.5,978.3M1033.5,731.5C1058.3,749.2 1083.1,766.8 1108,784.4C1141.1,807.7 1172.1,834.6 1207.6,854C1239.2,871.3 1272.5,886.1 1307,896.3C1337.3,905.2 1368.9,908.6 1400,913.7C1427.2,918.2 1454.3,923.3 1481.8,925.6C1533.8,930 1586.2,917.4 1638.3,921C1669.7,923.2 1701.6,924.7 1732,933C1748.4,937.5 1766.2,940.2 1780,950C1787.6,955.4 1793.1,963.1 1800,969.3C1808.9,977.3 1817.6,985.9 1828,991.8C1836.7,996.8 1846.5,999.6 1856,1003C1880.2,1011.6 1905.8,1015.8 1930.8,1021.7C1961.9,1029 1993.3,1034.8 2024.3,1042.2C2035.5,1044.9 2046.8,1047.5 2057.9,1050.5M1055.9,731.5C1082.3,741.8 1108.4,753 1133,767C1150.2,776.8 1166.4,788.2 1182.7,799.3C1191.1,805 1198.9,811.5 1207.6,816.7C1230.3,830.3 1256.9,835.7 1282,844C1316.4,855.5 1351.6,864.4 1386.6,874C1390.3,875 1393.9,876 1397.6,877M1990.6,731.7C2015.3,778.9 2039.8,826.3 2061.5,875C2074,903.1 2087,931 2097.2,960C2107.3,988.9 2115.8,1018.4 2122.4,1048.3M666,820.7C654.9,861.5 643.6,902.2 632.3,943C605.4,1040.1 578,1137 550.7,1234M673.5,820.7C678.7,861.2 681.7,902.1 682,943C682.3,982.1 675.6,1021 676,1060C676.2,1083.4 673.9,1107.3 679.3,1130C683.5,1147.6 690.4,1164.8 699.5,1180.5C711.2,1200.7 727.6,1218.3 745,1233.8M696,820.7C748.5,860.4 802.8,898.1 860,930.7C905.3,956.5 951.2,981.7 1000,1000C1032.6,1012.2 1066.4,1020.9 1100,1030C1135.3,1039.6 1170.9,1048.2 1206.7,1056M743.5,810C782.4,813.8 821.2,817.8 860,822C909.6,827.4 959.1,833.4 1008.6,839C1074.9,846.6 1141.2,854.5 1207.6,861.5C1267.2,867.8 1327.6,868.6 1386.6,879C1390.3,879.6 1394,880.1 1397.6,881M1450.5,909.7L1305,1048.3M1487,909.7L1529.7,959M1467.6,909.7C1465,928.3 1465.2,947.2 1465.5,966C1466,1004.3 1473.1,1042.2 1479,1080C1481.1,1093.6 1483.2,1107.3 1485.9,1120.8C1488.6,1134.5 1497.6,1147.7 1495.4,1161.5C1494.3,1168.1 1492.7,1175.2 1488.6,1180.5C1481,1190.2 1465.3,1188.8 1453.3,1191.4C1426.7,1197.2 1398.9,1193.1 1371.7,1194C1281.1,1197 1190.4,1197.7 1100,1203.6C1033.2,1207.9 966.4,1212.7 900,1221C870.6,1224.7 841.2,1228.2 812,1233.5M1540.6,899C1590.6,906.5 1640.4,915.2 1690,925C1742.5,935.4 1799.7,934.4 1846.7,960C1863.3,969 1876.9,982.8 1893.5,991.8C1916.9,1004.5 1943.1,1010.9 1968.2,1019.8C1997.9,1030.3 2027.8,1040.1 2057.9,1049.5M1540.6,897C1583.8,899 1626.9,904.2 1669.6,911C1722.4,919.4 1773.6,935.6 1826,946C1883.7,957.5 1942.4,964 2000,976C2041.9,984.7 2084.7,991 2125,1005.4C2157.5,1017 2190.6,1029.4 2219,1049C2236.3,1060.9 2254.6,1073 2267,1090C2277.2,1104 2281.8,1121.3 2289,1137C2295.5,1151.3 2300.6,1166.3 2308.2,1180C2316.5,1195.1 2326.3,1209.4 2337.3,1222.7C2349,1236.8 2362.1,1249.8 2376.2,1261.5C2388.4,1271.6 2401.5,1280.4 2415,1288.7C2431.9,1299.1 2449.8,1308 2468,1316M1489,999.2L1343.4,1048.3M1555.4,999.2C1560.4,1025.9 1565.4,1052.8 1566,1080C1566.3,1093.6 1566.3,1107.3 1564.7,1120.8C1563.1,1134.5 1563.1,1149.3 1556.5,1161.5C1551.3,1171.1 1543.6,1179.6 1534.8,1186C1519.7,1197 1498.8,1196.3 1480.4,1199.6C1444.7,1206 1407.9,1203.5 1371.7,1205C1281.2,1208.7 1190.5,1206.1 1100,1210.4C1033.3,1213.6 966.5,1217.4 900,1224C870.6,1226.9 841.2,1229.7 812,1234M1620.5,996.2C1680.1,1007.1 1739.9,1017.3 1800,1025.4C1843.5,1031.3 1887.2,1035 1930.8,1040.4C1968.2,1045.1 2005.6,1050.5 2043,1055.3C2048,1055.9 2052.9,1056.6 2057.9,1057.2M1620.5,997.5C1686.8,1015 1752.9,1033 1818.7,1052C1876,1068.5 1934,1082.9 1990,1103.3C2018.9,1113.8 2056.2,1113.7 2075.6,1137.5C2089.9,1155 2091,1180 2097,1201.8C2102.2,1221 2099.4,1243.2 2110,1260C2127.5,1287.8 2168.8,1289.8 2200,1300C2263.7,1320.8 2333.1,1316.1 2400,1321C2421.1,1322.5 2442.2,1324.3 2463.3,1325M1644.4,997L1354,1053M1707.4,999.2C1695.2,1027 1681.2,1054.2 1665.2,1080C1650.5,1103.7 1637,1129.2 1616.3,1148C1600.3,1162.5 1581.4,1173.8 1562,1183.3C1536.5,1195.7 1508.2,1202.2 1480.4,1207.7C1444.8,1214.8 1408,1213.8 1371.7,1215.9C1281.3,1221.2 1190.5,1217.3 1100,1220C1033.3,1222 966.6,1223.8 900,1228C870.6,1229.9 841.3,1231.6 812,1234.5M1787.5,996.5C1791.7,996.8 1795.8,997.7 1800,998.3C1837.8,1004 1874.5,1015.6 1912,1023.5C1937,1028.7 1962,1033.5 1987,1038.5C2010.6,1043.2 2034.3,1047.9 2057.9,1052.5M1787.5,997.5C1856.8,1006.6 1929.8,1016.4 1990,1052C2021.4,1070.6 2059.6,1087.6 2075.6,1120.4C2084.6,1138.8 2081.7,1161.1 2088.5,1180.4C2098.8,1209.5 2112.9,1239.1 2135.6,1260C2165.5,1287.5 2210.7,1291.7 2250,1302C2298.8,1314.8 2349.7,1319 2400,1323C2421.1,1324.7 2442.2,1326.6 2463.3,1326.5M2649.7,991L2201,1055.3M2714.7,999.2C2695.6,1059.9 2677.8,1121.1 2653.7,1180C2645.7,1199.5 2637.9,1219.1 2628.5,1238C2623.6,1247.8 2619.9,1258.4 2613,1267C2604.3,1277.9 2591.8,1285.2 2580,1292.6C2563.6,1303 2545.3,1310.5 2527,1317M2724,999.2L2744.7,1145M2747.7,999.2L2815.3,1048.5M2821.8,1088.7L2761.8,1145M2868.9,1088.7L2950.2,1145M2845.3,1088.7C2846.8,1104.9 2847.7,1121.9 2843,1137.5C2840.1,1147.2 2836.3,1157.1 2830,1165C2822.4,1174.5 2810.9,1180.4 2800,1186C2784.6,1193.9 2766.9,1196.3 2750,1200.4C2713.3,1209.3 2675.5,1212.4 2638,1216.9C2590.4,1222.7 2542.4,1225.8 2494.6,1229.5C2414.6,1235.7 2334.5,1239.9 2254.4,1243.8M2850.4,1088.7C2858.3,1103.5 2862,1120.8 2862.4,1137.5C2863,1159.7 2856.6,1182.7 2845.3,1201.8C2827.7,1231.5 2790.4,1244.3 2759.7,1260C2722.3,1279.2 2680.8,1289.9 2640,1300C2602.9,1309.2 2565.1,1316 2527,1319.5M2771,1073.3C2607.2,1082.1 2443.4,1090.2 2280,1104C2213.4,1109.6 2147.1,1118.8 2080.4,1122.6C2049.3,1124.4 2018.1,1124.5 1987,1126.4C1962,1127.9 1936.9,1129.2 1912,1132C1882.9,1135.2 1854.3,1141.5 1825.3,1145.3C1812.2,1147 1798.1,1144.8 1786,1150C1779.4,1152.8 1773.9,1157.7 1767.8,1161.4C1760.2,1166.1 1752.8,1171.4 1744.7,1175.2C1726.9,1183.4 1706.5,1183.8 1687.2,1186.7C1656.7,1191.3 1625.7,1191.5 1595,1193.6C1556.7,1196.2 1518.4,1198.9 1480,1200.5C1443.9,1202 1407.8,1202.2 1371.7,1203C1281.1,1205 1190.5,1205.3 1100,1208.5C999.9,1212 899.9,1217.4 800,1224C725.6,1228.9 651.2,1234.3 577,1241M1223.5,1088.7L1071.5,1144M1247,1088.7L1157,1144M1278.4,1088.7L1278.4,1137.5M1311.3,1088.7L1412,1145M1349.9,1078.9C1434.7,1090.3 1519.7,1101.2 1604.6,1111.8C1705.8,1124.4 1807.1,1136.5 1908.5,1148.2M1207,1077C1171.1,1080.9 1135.4,1087.2 1100,1094.7C1055.9,1104 1011.8,1114.6 969.5,1130C931.3,1143.9 893,1158.9 858.5,1180.5C834.3,1195.7 810.7,1212.4 790.4,1232.5M1207,1077.3C1171.1,1081.9 1135.2,1087.2 1100,1095.5C1076.4,1101 1051.5,1103.8 1030,1115C1019.3,1120.6 1008.3,1126.5 999.8,1135C993.9,1140.9 987,1147 984.7,1155C981,1167.8 990.8,1181.3 997.3,1193C1010.4,1216.5 1037.5,1229.3 1060.4,1243.5C1082.2,1257 1106.8,1265.4 1130,1276.4C1158,1289.6 1186,1302.8 1214,1316M2096.3,1088.5L2016.4,1137M2118.5,1088.7L2015.7,1234M2164.5,1088.7C2183.1,1101.6 2202.5,1116.8 2211.6,1137.5C2217.4,1150.7 2218.9,1165.6 2220,1180C2221.4,1198 2219.4,1216.3 2216,1234M2166.6,1088.7C2184.9,1097.6 2203.2,1106.6 2220,1118C2228.9,1124.1 2238.7,1129.4 2245.9,1137.5C2256.2,1149.2 2258.9,1165.9 2265.5,1180C2273.1,1196.2 2278.5,1213.9 2288.8,1228.5C2299.4,1243.4 2312.9,1256.4 2327.6,1267.3C2345,1280.3 2365.6,1288.8 2385.9,1296.5C2408.3,1305 2433.3,1305.5 2455.7,1314C2458.2,1315 2460.9,1315.7 2463.3,1317M2057.9,1076.8C2030.3,1081.3 2002.6,1085.7 1975,1090C1925.1,1097.8 1875.1,1104.6 1825.3,1113C1786.9,1119.5 1748.5,1126.4 1710.2,1133.7C1671.7,1141 1633.4,1149.3 1595,1156.8C1556.7,1164.3 1518.5,1172.4 1480,1178.6C1453.1,1182.9 1426.1,1187.2 1399,1190C1344.9,1195.7 1290.3,1193.8 1236,1195.5C1190.7,1196.9 1145.3,1197.3 1100,1199.6C1033.2,1203 966.1,1205.5 900,1216C870.5,1220.7 840.8,1225.2 812,1233M2057.9,1089C2027.7,1096.4 1997.8,1105.5 1968.2,1115C1924,1129.2 1882,1150.1 1837.4,1163C1805.4,1172.3 1772.8,1179.8 1740,1186C1693.8,1194.7 1646.8,1198.9 1600,1203C1524.1,1209.7 1447.8,1209.4 1371.7,1211C1281.2,1212.9 1190.5,1209.9 1100,1212C999.9,1214.3 899.9,1219.5 800,1225.5C725.6,1230 651.2,1235 577,1241.5M2057.9,1077.8C2015.3,1084.7 1972.9,1092.9 1930.8,1102C1886.9,1111.5 1841.2,1116.2 1800,1134C1788.4,1139 1776.9,1144.5 1765.8,1150.7C1751.6,1158.7 1739.2,1169.8 1725,1177.8C1699.5,1192.2 1671.3,1201.2 1643.5,1210.4C1616.8,1219.2 1586.4,1218 1562,1232C1550.2,1238.8 1540.7,1249.2 1529.3,1256.6C1505.8,1271.9 1479.3,1282.3 1453,1292C1397.8,1312.2 1337.8,1317.4 1279.3,1323M1908.6,1164.8C1842.6,1171.4 1776.4,1176.2 1710.2,1179.8C1633.5,1184 1556.5,1180.1 1480,1186.7C1443.8,1189.8 1407.9,1195.7 1371.7,1199C1281.5,1207.2 1190.5,1204.1 1100,1208C999.9,1212.4 899.9,1217.7 800,1224.5C725.6,1229.6 651.2,1235.2 577,1242M1908.6,1175C1866.1,1184 1823.2,1191.3 1780,1196C1741.5,1200.2 1702.7,1201 1664,1203C1602.7,1206.1 1541.4,1208.1 1480,1209.7C1443.9,1210.7 1407.8,1211.3 1371.7,1212C1281.1,1213.7 1190.5,1211.7 1100,1215C1033.3,1217.4 966.5,1220.2 900,1226C870.6,1228.6 841.2,1231 812,1235M1908.6,1176.5C1866.1,1185.9 1823.2,1193.7 1780,1199C1741.5,1203.7 1702.7,1205.3 1664,1208C1602.7,1212.3 1541.3,1214.9 1480,1219C1443.9,1221.4 1407.8,1224.3 1371.7,1226.7C1281.2,1232.7 1190.7,1238.8 1100,1241.7C1076.7,1242.4 1053.3,1243.4 1030,1243.5M1910,1177.5C1867.1,1187.5 1823.7,1196 1780,1202C1741.5,1207.3 1702.7,1209.5 1664,1213C1602.7,1218.5 1541.3,1222.5 1480,1228C1434.8,1232.1 1389.7,1236.8 1344.6,1241C1263.1,1248.6 1181.5,1255 1100,1262.5C1076.7,1264.6 1053.4,1267.2 1030,1269C1014.9,1270.2 999.8,1271 984.7,1272C900.5,1277.6 816.4,1283.9 732.3,1290C644.7,1296.4 557.2,1303.7 469.6,1309.5C375.4,1315.8 281.2,1321.2 187,1326M1912,1178C1875.2,1189 1837.7,1197.7 1800,1205C1755.1,1213.7 1709.3,1217.6 1664,1224C1611.9,1231.3 1559.2,1235.8 1507.6,1246C1425.7,1262.2 1345.8,1288.3 1267,1316M1917,1178.3L1737.4,1226.5M1945,1178.3L1848.7,1233.5M1964.7,1178.6C1953,1192.5 1940.1,1208.8 1939.7,1227C1939.5,1237.8 1941.9,1249.2 1947.5,1258.5C1958.6,1276.9 1986.7,1276.4 2007,1283.5C2076.4,1307.6 2152.9,1301.6 2226,1308.6C2283.9,1314.2 2342,1317.9 2400,1322.7C2421.1,1324.5 2442.2,1326.2 2463.3,1328M1984.4,1178.3L1996.4,1233.5M2030.5,1178.6L2179.2,1233.8M1647.6,1267.4L1610.9,1316.4M1677.4,1267.4L1715.5,1316.4M1585,1260.7C1423.5,1274.9 1261.9,1288.1 1100,1297.4C994.3,1303.4 888.6,1307.6 782.8,1311.7C681.9,1315.6 580.9,1319 480,1321.8C382.3,1324.5 284.7,1326.8 187,1328.5M1585,1262.5C1541.1,1271.8 1497.1,1280.5 1453,1289C1395.2,1300.1 1337.3,1310.5 1279.3,1320.5M1740,1266C1759.9,1269.1 1780,1271.6 1800,1274.3C1866.5,1283.1 1933.2,1290.6 2000,1297C2075.2,1304.2 2150.6,1308.8 2226,1314C2284,1318 2342,1321 2400,1325C2421.1,1326.5 2442.2,1327.9 2463.3,1329.5"/>
<path class="a" d="M2802.5,80.5L2797.8,67.2L2807.2,67.2ZM2802.5,169.7L2797.8,156.4L2807.2,156.4ZM1949,258.8L1961.2,251.8L1962.9,261ZM1964.5,262.6L1977.4,256.8L1978.1,266.1ZM2527,1326L2539.9,1320.4L2540.6,1329.7ZM2527,1323.5L2539.7,1317.4L2540.7,1326.7ZM717,1233.8L702.9,1234.6L705.5,1225.6ZM320.4,512.8L317.2,499.1L326.5,500.1ZM421,601.8L413.2,590.1L422.2,587.8ZM668.8,780.6L662.4,768.1L671.6,766.8ZM940.6,698.5L926.6,700.2L928.6,691.1ZM1236,340.8L1248.8,334.9L1249.7,344.2ZM1285.8,423L1290.5,409.7L1297.8,415.5ZM1427.5,512.5L1430.2,498.7L1438.3,503.4ZM1766,333.5L1775.8,323.3L1780,331.7ZM1792,423L1795.1,409.2L1803,414.2ZM1722,601.5L1731.3,590.9L1735.9,599ZM1516,869.5L1525.1,858.8L1529.8,866.8ZM1576.8,958.5L1580.4,944.9L1588.1,950.1ZM1786,958.5L1795.7,948.3L1800,956.6ZM2228,337.8L2214.3,340.9L2215.3,331.6ZM2147.7,1048.3L2153,1035.3L2160,1041.5ZM2736,958.5L2738.5,944.6L2746.6,949.2ZM2842.8,1048L2838.1,1034.7L2847.5,1034.7ZM2527,1321L2539.6,1314.7L2540.8,1324ZM131.5,1315L117.5,1313.3L121.7,1304.9ZM139,1315.5L125.8,1310.5L131.9,1303.3ZM729.8,1233.8L716.5,1229.2L722.3,1221.9ZM688.4,780L693.5,766.9L700.6,772.9ZM1014.7,691L1012.2,677.1L1021.4,678.6ZM1433.5,869.5L1420,865.3L1425.6,857.8ZM1247,423L1233.7,418.2L1239.7,411ZM1662.4,601.5L1648.3,602.3L1650.9,593.3ZM1512,431L1497.9,431.6L1500.7,422.6ZM2129,1048.3L2124.1,1035.1L2133.4,1034.9ZM2510,1316.5L2509,1302.4L2518,1304.9ZM1764.5,423L1754,413.6L1762.2,409.1ZM1488,512L1495.2,499.9L1501.2,507.1ZM2518,1316.5L2525.5,1304.5L2531.3,1311.8ZM1580.4,434.5L1593.1,428.3L1594.1,437.6ZM1490,512.5L1502.6,506.1L1503.8,515.4ZM1849,430L1861.4,423.3L1862.9,432.5ZM2445,430.6L2431.1,428.6L2435.4,420.3ZM2712.6,958.5L2704.4,947L2713.4,944.4ZM2527,1318.5L2539.4,1311.8L2540.9,1321.1ZM1541,885.8L1553.9,880.2L1554.6,889.5ZM1788,967L1800.3,960.1L1801.9,969.3ZM2052,1144.5L2063.5,1136.4L2066.1,1145.4ZM524.5,1234L510.5,1232.3L514.6,1223.9ZM737.4,1233.8L724.8,1227.5L731.5,1221ZM701.5,780L709,768L714.8,775.3ZM1208.6,519.5L1213.3,506.2L1220.6,512ZM1452,869.5L1445.3,857.1L1454.6,855.6ZM1382,512L1368.2,509L1373.1,501.1ZM1951.5,690.5L1938.4,685.2L1944.6,678.2ZM2110.3,1048.3L2099.3,1039.5L2107.2,1034.5ZM2484,1316.5L2474.1,1306.4L2482.6,1302.5ZM1491,512.3L1502.9,504.8L1505,513.9ZM716.4,780L726.6,770.2L730.4,778.7ZM1083.7,700.2L1096.6,694.5L1097.3,703.8ZM1704,601.5L1705.3,587.5L1713.8,591.4ZM1496,869.5L1500.7,856.2L1508,862.1ZM2494.6,1316.5L2489.9,1303.2L2499.3,1303.2ZM541.8,1234L534.6,1221.9L543.7,1220ZM1201.7,1327.5L1188.4,1332.1L1188.4,1322.7ZM764.6,1234L758.5,1221.3L767.8,1220.3ZM1460,869.5L1451.2,858.5L1460,855.4ZM1444,609.5L1435.3,598.4L1444.2,595.4ZM1621.7,601.8L1607.6,601.9L1610.6,593.1ZM147,1315.5L137.3,1305.2L145.9,1301.4ZM1201.7,1328.5L1188.4,1333L1188.4,1323.7ZM1620.7,612.5L1606.9,615.5L1608.1,606.3ZM2086,1048.3L2072,1046.4L2076.3,1038.1ZM158,1315.5L154.8,1301.8L164.1,1302.8ZM940.6,698.5L926.8,701.3L928.1,692ZM1083.7,699.2L1096.3,692.9L1097.5,702.2ZM780.3,1234L784.1,1220.4L791.7,1225.8ZM1292,1048.3L1293.4,1034.3L1301.8,1038.2ZM1484,869.5L1484.8,855.4L1493.5,859ZM2101,1048.3L2088.1,1042.7L2094.4,1035.8ZM2052,1143L2064.6,1136.7L2065.8,1146ZM2466,1318L2452.7,1313.2L2458.6,1306ZM746.4,780.5L758.1,772.7L760.4,781.7ZM176,1315.5L183.9,1303.8L189.5,1311.3ZM767.7,1234L765.2,1220.1L774.5,1221.6ZM950.6,1227L947.5,1213.3L956.8,1214.3ZM1253.5,1048.3L1240.5,1042.9L1246.7,1036ZM1477.5,978.3L1463.8,981.7L1464.7,972.4ZM2057.9,1050.5L2043.8,1051.6L2046.3,1042.6ZM1397.6,877L1383.6,878.2L1385.9,869.1ZM2122.4,1048.3L2115,1036.3L2124.1,1034.3ZM550.7,1234L549.8,1219.9L558.8,1222.5ZM745,1233.8L732,1228.4L738.2,1221.5ZM1206.7,1056L1192.7,1057.7L1194.7,1048.6ZM1397.6,881L1383.5,882.1L1385.9,873.1ZM1305,1048.3L1311.4,1035.7L1317.9,1042.5ZM1529.7,959L1517.5,952L1524.5,945.9ZM812,1233.5L824.3,1226.5L825.9,1235.7ZM2057.9,1049.5L2043.8,1050L2046.6,1041.1ZM2468,1316L2453.9,1314.9L2457.7,1306.4ZM1343.4,1048.3L1354.5,1039.6L1357.5,1048.5ZM812,1234L824.5,1227.5L825.8,1236.7ZM2057.9,1057.2L2044.1,1060.2L2045.3,1050.9ZM2463.3,1325L2449.9,1329.2L2450.2,1319.9ZM1354,1053L1366.2,1045.9L1367.9,1055.1ZM812,1234.5L824.8,1228.6L825.7,1237.9ZM2057.9,1052.5L2043.9,1054.5L2045.7,1045.4ZM2463.3,1326.5L2450,1331.2L2450,1321.9ZM2201,1055.3L2213.5,1048.8L2214.8,1058ZM2527,1317L2538,1308.2L2541.1,1317ZM2744.7,1145L2738.2,1132.5L2747.5,1131.2ZM2815.3,1048.5L2801.8,1044.4L2807.3,1036.9ZM2761.8,1145L2768.3,1132.5L2774.7,1139.3ZM2950.2,1145L2936.6,1141.3L2941.9,1133.6ZM2254.4,1243.8L2267.5,1238.5L2267.9,1247.8ZM2527,1319.5L2539.8,1313.6L2540.7,1322.9ZM577,1241L589.8,1235.2L590.7,1244.5ZM1071.5,1144L1082.4,1135.1L1085.6,1143.8ZM1157,1144L1165.9,1133.1L1170.8,1141ZM1278.4,1137.5L1273.7,1124.2L1283.1,1124.2ZM1412,1145L1398.1,1142.6L1402.7,1134.4ZM1908.5,1148.2L1894.8,1151.3L1895.8,1142ZM790.4,1232.5L796.6,1219.8L803.1,1226.5ZM1214,1316L1200,1314.6L1204,1306.1ZM2016.4,1137L2025.3,1126.1L2030.2,1134.1ZM2015.7,1234L2019.6,1220.4L2027.2,1225.8ZM2216,1234L2213.9,1220.1L2223.1,1221.8ZM2463.3,1317L2449.4,1314.8L2453.8,1306.6ZM812,1233L823.6,1225L826.1,1234ZM577,1241.5L589.8,1235.7L590.7,1245ZM1279.3,1323L1292.1,1317.1L1293,1326.4ZM577,1242L589.8,1236.1L590.7,1245.4ZM812,1235L824.6,1228.6L825.8,1237.8ZM1030,1243.5L1043.3,1238.8L1043.3,1248.1ZM187,1326L200,1320.7L200.5,1330ZM1267,1316L1278,1307.2L1281.1,1316ZM1737.4,1226.5L1749,1218.5L1751.5,1227.6ZM1848.7,1233.5L1857.9,1222.8L1862.6,1230.9ZM2463.3,1328L2449.6,1331.5L2450.4,1322.2ZM1996.4,1233.5L1989,1221.5L1998.1,1219.5ZM2179.2,1233.8L2165.1,1233.5L2168.4,1224.8ZM1610.9,1316.4L1615.1,1303L1622.6,1308.6ZM1715.5,1316.4L1703.6,1308.8L1711,1303ZM187,1328.5L200.2,1323.6L200.4,1332.9ZM1279.3,1320.5L1291.6,1313.6L1293.2,1322.8ZM2463.3,1329.5L2449.7,1333.1L2450.4,1323.8Z"/>
<rect class="r" x="2737.5" y="5.6" width="130" height="25.4"/>
<rect class="n" x="2715.5" y="80.5" width="174" height="39.9"/>
<rect class="n" x="2715.5" y="170" width="174" height="39.9"/>
<rect class="n" x="1809.2" y="259.2" width="154.7" height="25.4"/>
<rect class="n" x="1092.6" y="334.1" width="142.2" height="39.9"/>
<rect class="n" x="1655.4" y="334.1" width="142.2" height="39.9"/>
<rect class="n" x="2228.5" y="334.1" width="142.2" height="39.9"/>
<rect class="n" x="1199.2" y="423.4" width="142.2" height="39.9"/>
<rect class="g" x="1505" y="430.6" width="75" height="25.4"/>
<rect class="n" x="1706.3" y="423.4" width="142.2" height="39.9"/>
<rect class="g" x="2430.4" y="430.6" width="75.2" height="25.4"/>
<rect class="n" x="246.2" y="512.8" width="142.2" height="39.9"/>
<rect class="g" x="1159.1" y="520" width="73.6" height="25.4"/>
<rect class="n" x="1345.7" y="512.8" width="142.2" height="39.9"/>
<rect class="n" x="356.7" y="601.8" width="142.2" height="39.9"/>
<rect class="g" x="1409" y="609.1" width="85.4" height="25.4"/>
<rect class="n" x="1620.8" y="601.8" width="142.2" height="39.9"/>
<rect class="n" x="941" y="691.5" width="142.2" height="39.9"/>
<rect class="n" x="1908.9" y="691.5" width="142.2" height="39.9"/>
<rect class="n" x="600.6" y="780.8" width="142.2" height="39.9"/>
<rect class="n" x="1398" y="869.8" width="142.2" height="39.9"/>
<rect class="n" x="1477.9" y="959.3" width="142.2" height="39.9"/>
<rect class="n" x="1644.7" y="959.3" width="142.2" height="39.9"/>
<rect class="n" x="2650.1" y="959.3" width="142.2" height="39.9"/>
<rect class="n" x="1207.1" y="1048.6" width="142.2" height="39.9"/>
<rect class="n" x="2058.2" y="1048.6" width="142.2" height="39.9"/>
<rect class="n" x="2771.5" y="1048.6" width="142.2" height="39.9"/>
<rect class="g" x="1005.7" y="1145.3" width="70.8" height="25.4"/>
<rect class="g" x="1100.3" y="1145.3" width="71" height="25.4"/>
<rect class="n" x="1195.1" y="1138" width="167.2" height="39.9"/>
<rect class="g" x="1385.5" y="1145.3" width="92.6" height="25.4"/>
<rect class="n" x="1909" y="1138" width="142.2" height="39.9"/>
<rect class="g" x="2684.4" y="1145.3" width="124" height="25.4"/>
<rect class="g" x="2934.6" y="1145.3" width="66.7" height="25.4"/>
<rect class="g" x="516.6" y="1234.7" width="59.8" height="25.4"/>
<rect class="g" x="687.5" y="1234.7" width="155.4" height="25.4"/>
<rect class="g" x="866.5" y="1227.5" width="163.1" height="39.9"/>
<rect class="n" x="1585.2" y="1227.5" width="154.7" height="39.9"/>
<rect class="g" x="1763.7" y="1234.7" width="122.8" height="25.4"/>
<rect class="g" x="1961" y="1234.7" width="80.5" height="25.4"/>
<rect class="g" x="2167" y="1234.7" width="87" height="25.4"/>
<rect class="g" x="127.7" y="1316.7" width="58.9" height="25.4"/>
<rect class="g" x="1201.7" y="1316.7" width="76.7" height="25.4"/>
<rect class="g" x="1538.8" y="1316.7" width="122.5" height="25.4"/>
<rect class="g" x="1685.8" y="1316.7" width="78.9" height="25.4"/>
<rect class="g" x="2463.3" y="1316.7" width="62.6" height="25.4"/>
<g style="will-change:transform;mix-blend-mode:multiply">
<text x="2802.5" y="21.9">rp_objective.cpp</text>
<text x="2802.5" y="96.5">fields2cover/objectives</text>
<text x="2802.5" y="111.4">/rp_obj/rp_objective.h</text>
<text x="2802.5" y="185.9">fields2cover/objectives</text>
<text x="2802.5" y="200.8">/base_objective.h</text>
<text x="1886.5" y="275.5">fields2cover/types.h</text>
<text x="1163.7" y="350">fields2cover/types</text>
<text x="1163.7" y="364.9">/Robot.h</text>
<text x="1726.5" y="350">fields2cover/types</text>
<text x="1726.5" y="364.9">/SwathsByCells.h</text>
<text x="2299.6" y="350">fields2cover/types</text>
<text x="2299.6" y="364.9">/Route.h</text>
<text x="1270.3" y="439.3">fields2cover/types</text>
<text x="1270.3" y="454.2">/Path.h</text>
<text x="1542.5" y="446.9">optional</text>
<text x="1777.4" y="439.3">fields2cover/types</text>
<text x="1777.4" y="454.2">/Swaths.h</text>
<text x="2468" y="446.9">numeric</text>
<text x="317.3" y="528.7">fields2cover/types</text>
<text x="317.3" y="543.6">/Field.h</text>
<text x="1195.9" y="536.3">fstream</text>
<text x="1416.8" y="528.7">fields2cover/types</text>
<text x="1416.8" y="543.6">/Swath.h</text>
<text x="427.8" y="617.8">fields2cover/types</text>
<text x="427.8" y="632.7">/Strip.h</text>
<text x="1451.7" y="625.4">algorithm</text>
<text x="1691.9" y="617.8">fields2cover/types</text>
<text x="1691.9" y="632.7">/Cells.h</text>
<text x="1012.1" y="707.5">fields2cover/types</text>
<text x="1012.1" y="722.4">/Cell.h</text>
<text x="1980" y="707.5">fields2cover/types</text>
<text x="1980" y="722.4">/PathState.h</text>
<text x="671.7" y="796.7">fields2cover/types</text>
<text x="671.7" y="811.6">/MultiLineString.h</text>
<text x="1469.1" y="885.8">fields2cover/types</text>
<text x="1469.1" y="900.7">/LineString.h</text>
<text x="1549" y="975.3">fields2cover/types</text>
<text x="1549" y="990.2">/LinearRing.h</text>
<text x="1715.8" y="975.3">fields2cover/types</text>
<text x="1715.8" y="990.2">/MultiPoint.h</text>
<text x="2721.2" y="975.3">fields2cover/types</text>
<text x="2721.2" y="990.2">/Graph2D.h</text>
<text x="1278.2" y="1064.6">fields2cover/types</text>
<text x="1278.2" y="1079.5">/Geometries.h</text>
<text x="2129.3" y="1064.6">fields2cover/types</text>
<text x="2129.3" y="1079.5">/Point.h</text>
<text x="2842.6" y="1064.6">fields2cover/types</text>
<text x="2842.6" y="1079.5">/Graph.h</text>
<text x="1041.1" y="1161.6">iterator</text>
<text x="1135.8" y="1161.6">cstddef</text>
<text x="1205.9" y="1154" style="text-anchor:start">fields2cover/types</text>
<text x="1278.7" y="1168.9">/Geometries_impl.hpp</text>
<text x="1431.8" y="1161.6">type_traits</text>
<text x="1980.1" y="1154">fields2cover/types</text>
<text x="1980.1" y="1168.9">/Geometry.h</text>
<text x="2746.4" y="1161.6">unordered_map</text>
<text x="2967.9" y="1161.6">cstdint</text>
<text x="546.5" y="1251">utility</text>
<text x="765.2" y="1251">gdal/ogr_geometry.h</text>
<text x="948" y="1243.4">boost/math/constants</text>
<text x="948" y="1258.3">/constants.hpp</text>
<text x="1596" y="1243.4" style="text-anchor:start">fields2cover/types</text>
<text x="1662.6" y="1258.3">/Geometry_impl.hpp</text>
<text x="1825.1" y="1251">gdal/ogr_core.h</text>
<text x="2001.2" y="1251">iostream</text>
<text x="2210.5" y="1251">functional</text>
<text x="157.2" y="1333">string</text>
<text x="1240" y="1333">memory</text>
<text x="1600.1" y="1333">gdal/cpl_conv.h</text>
<text x="1725.2" y="1333">geos_c.h</text>
<text x="2494.6" y="1333">vector</text>
</g>
</svg></body></html>
